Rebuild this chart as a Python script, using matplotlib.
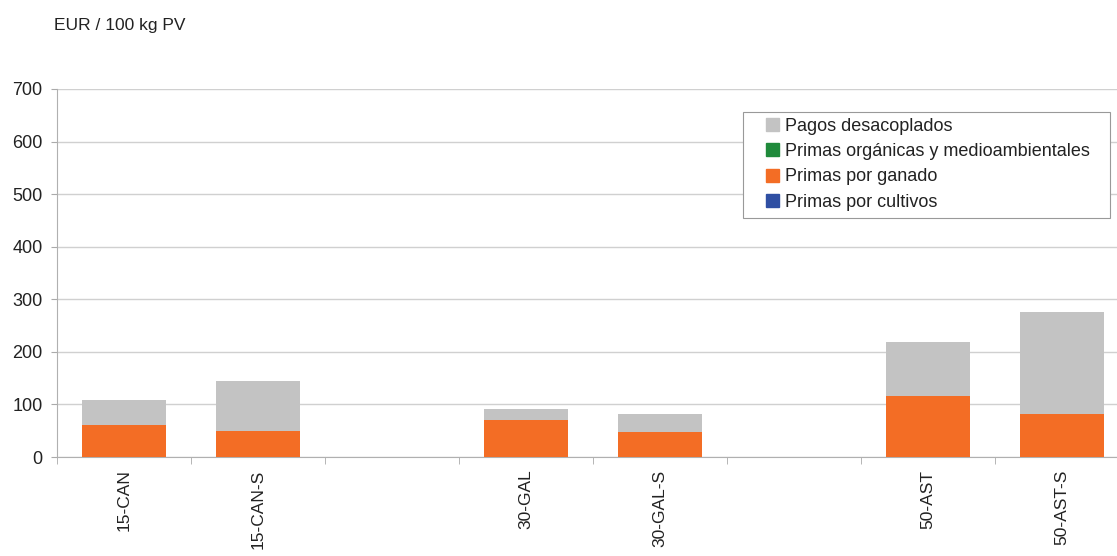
import numpy as np
import matplotlib.pyplot as plt
from matplotlib.patches import Patch, Rectangle

plt.rcParams["font.family"] = ["Liberation Sans", "DejaVu Sans"]

# Datos (EUR / 100 kg PV)
categorias = ["15-CAN", "15-CAN-S", "", "30-GAL", "30-GAL-S", "", "50-AST", "50-AST-S"]
primas_cultivos = [0, 0, 0, 0, 0, 0, 0, 0]
primas_ganado = [60, 50, 0, 71, 47, 0, 116, 81]
primas_organicas = [0, 0, 0, 0, 0, 0, 0, 0]
pagos_desacoplados = [48, 95, 0, 20, 35, 0, 103, 195]

c_gris = "#c3c3c3"
c_verde = "#1f8a3b"
c_naranja = "#f36d25"
c_azul = "#2f4fa3"

fig = plt.figure(figsize=(11.17, 5.56), dpi=100)
ax = fig.add_axes([0.051, 0.178, 0.96, 0.662])

x = np.arange(len(categorias))
w = 0.63
base = np.zeros(len(categorias))
for vals, col in [(primas_cultivos, c_azul), (primas_ganado, c_naranja),
                  (primas_organicas, c_verde), (pagos_desacoplados, c_gris)]:
    vals = np.array(vals, dtype=float)
    ax.bar(x, vals, w, bottom=base, color=col, zorder=3)
    base += vals

ax.set_xlim(-0.5, len(categorias) - 0.5)
ax.set_ylim(0, 700)
ax.set_yticks(range(0, 701, 100))
ax.tick_params(axis="y", labelsize=13, length=4.5, color="#aaaaaa", pad=6, labelcolor="#222222")
ax.grid(axis="y", color="#d0d0d0", linewidth=1, zorder=0)

ax.set_xticks(x)
ax.set_xticklabels(categorias, rotation=90, fontsize=12.5, color="#222222")
ax.tick_params(axis="x", length=0, pad=9)
ax.set_xticks(np.arange(-0.5, len(categorias), 1), minor=True)
ax.tick_params(axis="x", which="minor", length=5, color="#aaaaaa")

for s in ["top", "right"]:
    ax.spines[s].set_visible(False)
for s in ["left", "bottom"]:
    ax.spines[s].set_color("#b0b0b0")

fig.text(0.048, 0.955, "EUR / 100 kg PV", fontsize=12.5, va="center", color="#222222")

# Leyenda con marco propio
handles = [Patch(color=c_gris), Patch(color=c_verde), Patch(color=c_naranja), Patch(color=c_azul)]
labels = ["Pagos desacoplados", "Primas orgánicas y medioambientales",
          "Primas por ganado", "Primas por cultivos"]
fig.patches.append(Rectangle((0.6652, 0.6079), 0.3286, 0.1906, transform=fig.transFigure,
                             facecolor="white", edgecolor="#999999", linewidth=0.8, zorder=4))
leg = fig.legend(handles, labels, loc="upper left", bbox_to_anchor=(0.6858, 0.788),
                 bbox_transform=fig.transFigure, fontsize=13, frameon=False,
                 handlelength=0.72, handleheight=0.72, handletextpad=0.33,
                 labelspacing=0.46, borderpad=0, borderaxespad=0)
leg.set_zorder(5)
for t in leg.get_texts():
    t.set_color("#222222")

fig.savefig("out.png", dpi=100)
